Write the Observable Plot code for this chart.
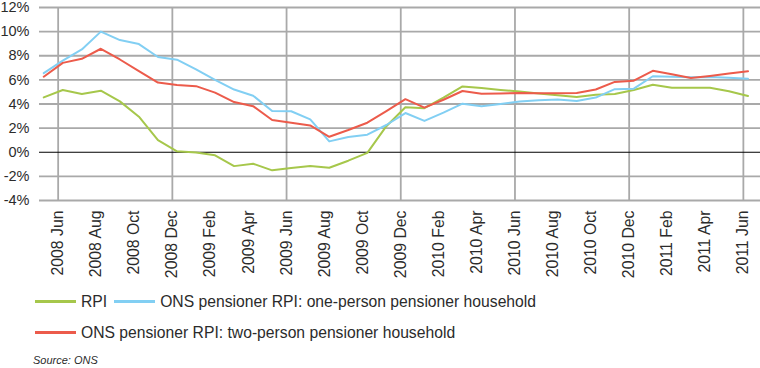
<!DOCTYPE html>
<html><head><meta charset="utf-8">
<script src="https://cdn.jsdelivr.net/npm/d3@7"></script>
<script src="https://cdn.jsdelivr.net/npm/@observablehq/plot@0.6"></script>
<style>
body{margin:0;background:#fff;font-family:"Liberation Sans",Arial,sans-serif;color:#2b2b2b;width:760px;height:368px;overflow:hidden;}
#chart{height:284px;}
.row{position:relative;height:31px;display:flex;align-items:center;padding-left:35px;font-size:15.7px;}
.row1{margin-top:2px;}
.item{display:flex;align-items:center;margin-right:7px;}
.sw{display:inline-block;width:41px;height:3px;margin-right:5px;}
.source{font-style:italic;font-size:11px;line-height:12px;padding-left:33px;margin-top:6px;}
</style></head><body>
<div id="chart"></div>
<div id="legend"></div>
<div class="source">Source: ONS</div>
<script>
// Monthly observations, first point = Jun 2008
const months = ["2008 Jun","2008 Jul","2008 Aug","2008 Sep","2008 Oct","2008 Nov","2008 Dec",
  "2009 Jan","2009 Feb","2009 Mar","2009 Apr","2009 May","2009 Jun","2009 Jul","2009 Aug","2009 Sep","2009 Oct","2009 Nov","2009 Dec",
  "2010 Jan","2010 Feb","2010 Mar","2010 Apr","2010 May","2010 Jun","2010 Jul","2010 Aug","2010 Sep","2010 Oct","2010 Nov","2010 Dec",
  "2011 Jan","2011 Feb","2011 Mar","2011 Apr","2011 May","2011 Jun","2011 Jul"];
const rpi = [4.55,5.16,4.83,5.10,4.22,2.95,1.0,0.08,-0.02,-0.25,-1.15,-0.95,-1.5,-1.3,-1.13,-1.29,-0.7,-0.05,2.16,
  3.73,3.65,4.53,5.46,5.32,5.17,5.03,4.87,4.73,4.59,4.77,4.83,5.16,5.6,5.35,5.35,5.35,5.05,4.66];
const onePerson = [6.56,7.59,8.52,10.0,9.30,8.97,7.9,7.67,6.87,6.0,5.2,4.69,3.42,3.4,2.72,0.9,1.26,1.46,2.26,
  3.25,2.6,3.28,4.03,3.81,4.0,4.21,4.31,4.38,4.24,4.53,5.23,5.27,6.3,6.26,6.21,6.24,6.17,6.09];
const twoPerson = [6.26,7.41,7.75,8.58,7.69,6.73,5.78,5.58,5.48,4.94,4.16,3.82,2.67,2.44,2.22,1.28,1.84,2.45,3.41,
  4.4,3.7,4.35,5.08,4.85,4.87,4.91,4.9,4.9,4.92,5.2,5.83,5.93,6.75,6.46,6.16,6.33,6.52,6.72];

const seriesNames = ["RPI","ONS pensioner RPI: one-person pensioner household","ONS pensioner RPI: two-person pensioner household"];
const seriesColors = ["#a6c74b","#82cff3","#ec5b4b"];

// Axis ticks (months after Jun 2008)
const tickMonths = [0,2,4,6,8,10,12,14,16,18,20,22,24,26,28,30,32,34,36];
const tickLabels = ["2008 Jun","2008 Aug","2008 Oct","2008 Dec","2009 Feb","2009 Apr","2009 Jun","2009 Aug","2009 Oct","2009 Dec",
  "2010 Feb","2010 Apr","2010 Jun","2010 Aug","2010 Oct","2010 Dec","2011 Feb","2011 Apr","2011 Jun"];
const gridMonths = [0,6,12,18,24,30,36];
const yGrid = [-4,-2,2,4,6,8,10,12];
const yTicks = [-4,-2,0,2,4,6,8,10,12];

const rows = months.map((m, i) => ({i, month: m, rpi: rpi[i], one: onePerson[i], two: twoPerson[i]}));
const keys = ["rpi","one","two"];

const H = 284;
const chart = Plot.plot({
  width: 760, height: H,
  marginLeft: 39, marginRight: 0, marginTop: 7, marginBottom: H - 200,
  style: {fontFamily: '"Liberation Sans", Arial, sans-serif', color: "#2b2b2b", background: "#fff", overflow: "visible"},
  x: {domain: [-0.98, 36.9], axis: null, label: null},
  y: {domain: [-4, 12], axis: null, label: null},
  marks: [
    Plot.ruleY(yGrid, {stroke: "#a9a9a9", strokeWidth: 1.8}),
    Plot.ruleX(gridMonths, {stroke: "#a9a9a9", strokeWidth: 1.8}),
    Plot.ruleY([0], {stroke: "#000", strokeWidth: 1.2}),
    ...keys.map((k, j) => Plot.line(rows, {x: "i", y: k, stroke: seriesColors[j], strokeWidth: 2, dx: -14.4})),
    Plot.axisY(yTicks, {tickSize: 0, tickPadding: 10, fontSize: 14.5, label: null, tickFormat: d => d + "%"}),
    Plot.axisX(tickMonths, {tickSize: 0, tickPadding: 10, tickRotate: -90, fontSize: 15.8, label: null,
      tickFormat: d => tickLabels[tickMonths.indexOf(d)]})
  ]
});
document.getElementById("chart").appendChild(chart);

const legend = document.getElementById("legend");
const groups = [[0,1],[2]];
groups.forEach((g, r) => {
  const row = document.createElement("div");
  row.className = "row" + (r === 0 ? " row1" : "");
  g.forEach(j => {
    const it = document.createElement("div");
    it.className = "item";
    const sw = document.createElement("span");
    sw.className = "sw"; sw.style.background = seriesColors[j];
    it.appendChild(sw);
    it.appendChild(document.createTextNode(seriesNames[j]));
    row.appendChild(it);
  });
  legend.appendChild(row);
});
</script>
</body></html>
